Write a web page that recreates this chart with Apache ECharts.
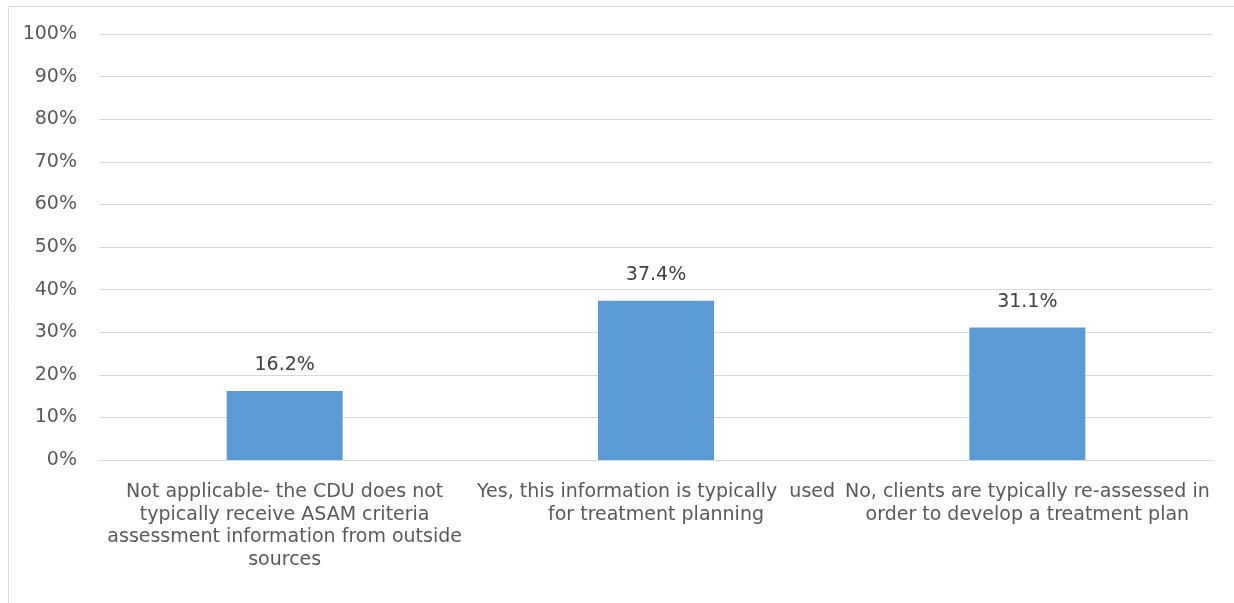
<!DOCTYPE html>
<html style="height: 100%">
<head>
    <meta charset="utf-8">
    <script src="https://cdn.jsdelivr.net/npm/echarts@6/dist/echarts.min.js"></script>
</head>
<body style="height: 100%; margin: 0; background: #fff">
    <div id="chart" style="width: 1234px; height: 603px"></div>
    <script type="text/javascript">
        var categories = [
            'Not applicable- the CDU does not\ntypically receive ASAM criteria\nassessment information from outside\nsources',
            'Yes, this information is typically  used\nfor treatment planning',
            'No, clients are typically re-assessed in\norder to develop a treatment plan'
        ];
        var values = [16.2, 37.4, 31.1];
        var yTicks = [0, 10, 20, 30, 40, 50, 60, 70, 80, 90, 100];

        var font = '"DejaVu Sans", sans-serif';
        var myChart = echarts.init(document.getElementById('chart'));
        myChart.setOption({
            animation: false,
            graphic: [{
                type: 'rect',
                shape: { x: 8.5, y: 6.5, width: 1240, height: 620 },
                style: { fill: null, stroke: '#d9d9d9', lineWidth: 1 },
                silent: true
            }],
            grid: { left: 99, right: 21, top: 34, bottom: 143 },
            xAxis: {
                type: 'category',
                data: categories,
                axisTick: { show: false },
                axisLine: { lineStyle: { color: '#d9d9d9' } },
                axisLabel: {
                    interval: 0,
                    color: '#595959',
                    fontFamily: font,
                    fontSize: 19,
                    lineHeight: 22.5,
                    margin: 21
                }
            },
            yAxis: {
                type: 'value',
                min: yTicks[0],
                max: yTicks[yTicks.length - 1],
                interval: 10,
                axisLine: { show: false },
                axisTick: { show: false },
                splitLine: { lineStyle: { color: '#d9d9d9', width: 1 } },
                axisLabel: {
                    color: '#595959',
                    fontFamily: font,
                    fontSize: 19,
                    margin: 22,
                    formatter: '{value}%'
                }
            },
            series: [{
                type: 'bar',
                data: values,
                barWidth: 116,
                itemStyle: { color: '#5b9bd5' },
                label: {
                    show: true,
                    position: 'top',
                    distance: 16,
                    color: '#404040',
                    fontFamily: font,
                    fontSize: 19,
                    formatter: function (p) { return p.value.toFixed(1) + '%'; }
                }
            }]
        });
    </script>
</body>
</html>
